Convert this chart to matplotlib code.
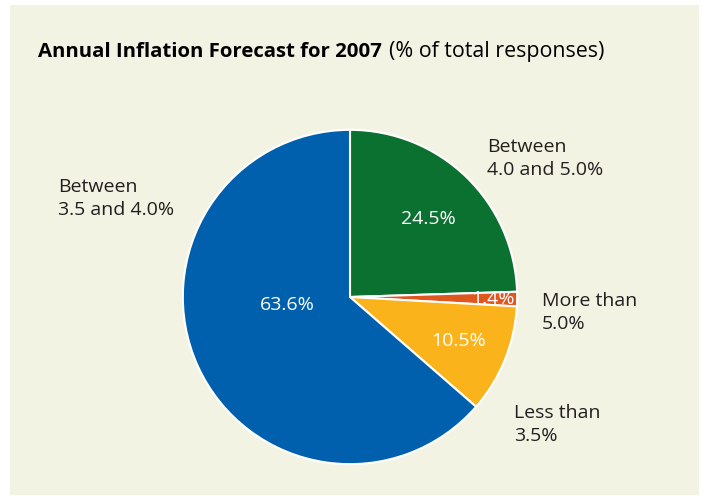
import matplotlib.pyplot as plt
from matplotlib.patches import Rectangle

# data
labels = ["Between\n4.0 and 5.0%", "More than\n5.0%", "Less than\n3.5%", "Between\n3.5 and 4.0%"]
values = [24.5, 1.4, 10.5, 63.6]
colors = ["#0b7131", "#e0561f", "#fab31b", "#0060ae"]

plt.rcParams["font.family"] = ["Open Sans", "DejaVu Sans"]

W, H = 703, 502
fig = plt.figure(figsize=(W / 100, H / 100), dpi=100)
fig.patch.set_facecolor("white")

# beige panel
fig.patches.append(Rectangle((10 / W, 6 / H), 689 / W, 490 / H, transform=fig.transFigure,
                             facecolor="#f3f3e3", edgecolor="none", zorder=-5))

def px(x, y):
    return x / W, 1 - y / H

# pie
cx, cy, r = 350, 298, 168
ax = fig.add_axes([(cx - r) / W, (H - cy - r) / H, 2 * r / W, 2 * r / H], zorder=2)
ax.set_facecolor("none")
ax.pie(values, colors=colors, startangle=90, counterclock=False, radius=1,
       wedgeprops=dict(edgecolor="white", linewidth=1.5))
ax.set_xlim(-1.005, 1.005)
ax.set_ylim(-1.005, 1.005)
ax.axis("off")

# percentages in white
pct_pos = [(428, 219), (493, 299), (459, 341), (287, 305)]
for v, (x, y) in zip(values, pct_pos):
    fig.text(*px(x, y), f"{v}%", color="white", fontsize=14, ha="center", va="center", zorder=5)

# outside labels (first-line baseline)
lab_pos = [(487, 152), (542, 306), (514, 418), (58, 192)]
for lab, (x, y) in zip(labels, lab_pos):
    t = fig.text(*px(x, y), lab.split("\n")[0], color="#231f20", fontsize=14, ha="left",
                 va="baseline")
    fig.text(*px(x, y + 23), lab.split("\n")[1], color="#231f20", fontsize=14, ha="left",
             va="baseline")

# title
t1 = fig.text(*px(38, 57), "Annual Inflation Forecast for 2007", fontsize=14.7, fontweight="bold",
              color="black", ha="left", va="baseline")
fig.canvas.draw()
bb = t1.get_window_extent()
fig.text((bb.x1 + 7) / W, 1 - 57 / H, "(% of total responses)", fontsize=15.4, color="black",
         ha="left", va="baseline")

fig.savefig("out.png", dpi=100, facecolor=fig.get_facecolor())
